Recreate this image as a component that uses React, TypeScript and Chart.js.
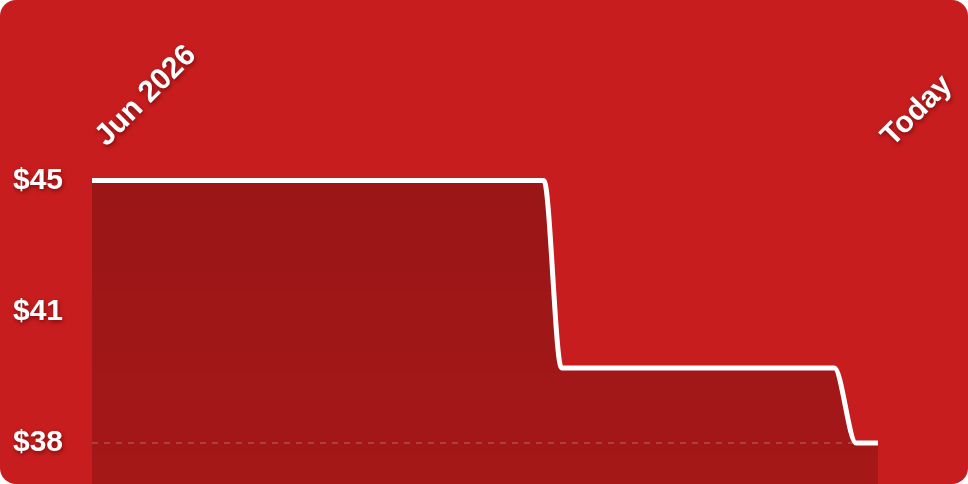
import { Chart, registerables } from 'chart.js';
import React, { useEffect, useRef } from 'react';

Chart.register(...registerables);

// price history, x = days since the start of the range
const days = [0, 20.7, 21.5, 34, 35, 36];
const prices = [45, 45, 40, 40, 38, 38];
const yTicks = [38, 41.5, 45];
const xLabels = ['Jun 2026', 'Today'];

const FONT = "'Liberation Sans', Arial, sans-serif";

// text shadow for the axis labels only
const labelShadow = {
    id: 'labelShadow',
    beforeDraw(chart: Chart) {
        setShadow(chart.ctx, true);
    },
    beforeDatasetsDraw(chart: Chart) {
        setShadow(chart.ctx, false);
    },
    afterDatasetsDraw(chart: Chart) {
        setShadow(chart.ctx, true);
    },
    afterDraw(chart: Chart) {
        setShadow(chart.ctx, false);
    },
};

function setShadow(ctx: CanvasRenderingContext2D, on: boolean) {
    ctx.shadowColor = on ? 'rgba(60,0,0,0.55)' : 'transparent';
    ctx.shadowBlur = on ? 4 : 0;
    ctx.shadowOffsetX = on ? 1 : 0;
    ctx.shadowOffsetY = on ? 2 : 0;
}

const PriceChart = () => {
    const chartRef = useRef<HTMLCanvasElement>(null);
    const chartInstance = useRef<Chart | null>(null);

    useEffect(() => {
        document.body.style.margin = '0';
        if (!chartRef.current) return;
        const context = chartRef.current.getContext('2d');

        if (chartInstance.current) {
            chartInstance.current.destroy();
        }

        chartInstance.current = new Chart(context!, {
            type: 'line',
            data: {
                datasets: [
                    {
                        data: days.map((d, i) => ({ x: d, y: prices[i] })),
                        borderColor: '#ffffff',
                        borderWidth: 5,
                        cubicInterpolationMode: 'monotone',
                        pointRadius: 0,
                        fill: 'start',
                        backgroundColor: (ctx: any) => {
                            const area = ctx.chart.chartArea;
                            if (!area) return 'rgba(0,0,0,0.2)';
                            const g = ctx.chart.ctx.createLinearGradient(0, area.top, 0, area.bottom);
                            g.addColorStop(0, 'rgba(0,0,0,0.23)');
                            g.addColorStop(1, 'rgba(0,0,0,0.17)');
                            return g;
                        },
                    },
                ],
            },
            options: {
                animation: false,
                responsive: true,
                maintainAspectRatio: false,
                layout: { padding: { left: 13, right: 90, top: 32, bottom: 0 } },
                plugins: {
                    legend: { display: false },
                    tooltip: { enabled: false },
                },
                scales: {
                    x: {
                        type: 'linear',
                        position: 'top',
                        min: days[0],
                        max: days[days.length - 1],
                        afterBuildTicks: (axis: any) => {
                            axis.ticks = [{ value: days[0] }, { value: days[days.length - 1] }];
                        },
                        afterFit: (axis: any) => {
                            axis.paddingLeft = 0;
                            axis.paddingRight = 0;
                        },
                        grid: { display: false, drawTicks: false },
                        border: { display: false },
                        ticks: {
                            autoSkip: false,
                            minRotation: 45,
                            maxRotation: 45,
                            padding: 6,
                            labelOffset: 34,
                            color: '#ffffff',
                            font: { family: FONT, size: 30, weight: 'bold' },
                            callback: (v: any) => (v === days[0] ? xLabels[0] : xLabels[1]),
                        },
                    },
                    y: {
                        z: 1,
                        min: 36.91,
                        max: 45.54,
                        afterBuildTicks: (axis: any) => {
                            axis.ticks = yTicks.map((v) => ({ value: v }));
                        },
                        afterFit: (axis: any) => {
                            axis.width = 79;
                            axis.paddingTop = 0;
                            axis.paddingBottom = 0;
                        },
                        grid: {
                            drawTicks: false,
                            lineWidth: 2,
                            color: (ctx: any) =>
                                ctx.tick && ctx.tick.value === yTicks[0] ? 'rgba(255,255,255,0.22)' : 'transparent',
                        },
                        border: { display: false, dash: [6, 6] },
                        ticks: {
                            padding: 29,
                            color: '#ffffff',
                            font: { family: FONT, size: 30, weight: 'bold' },
                            callback: (v: any) => '$' + Math.floor(v),
                        },
                    },
                },
            },
            plugins: [labelShadow],
        });

        return () => {
            if (chartInstance.current) {
                chartInstance.current.destroy();
                chartInstance.current = null;
            }
        };
    }, []);

    return (
        <div
            style={{
                position: 'relative',
                width: 968,
                height: 484,
                background: '#c81d1e',
                borderRadius: 16,
                overflow: 'hidden',
            }}
        >
            <canvas ref={chartRef} />
        </div>
    );
};

export default function App() {
    return <PriceChart />;
}
